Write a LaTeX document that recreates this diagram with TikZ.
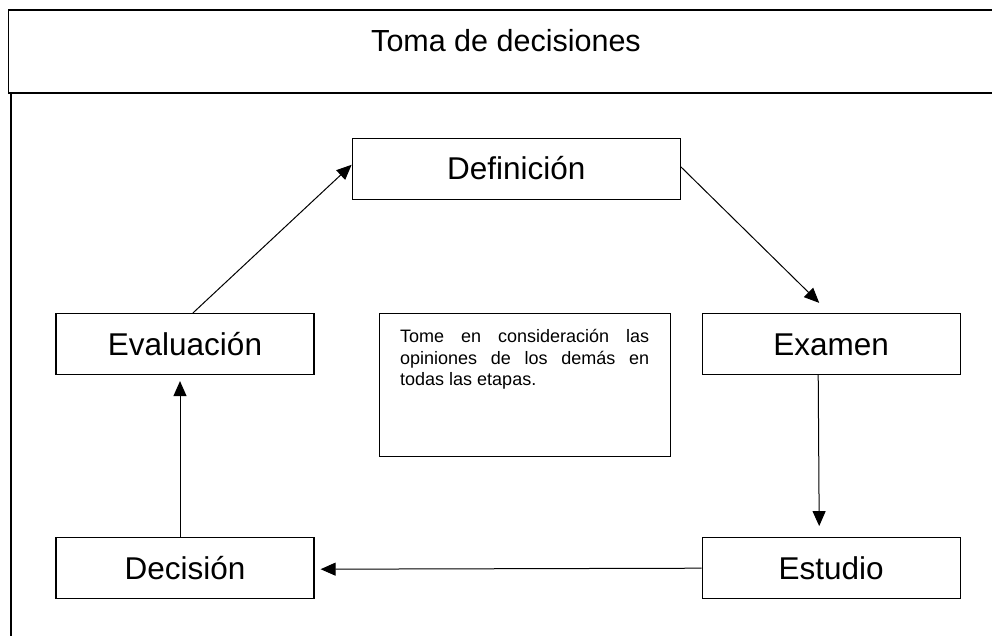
\documentclass[tikz,border=0pt]{standalone}
\usepackage{fontspec}
\setmainfont{Liberation Sans}
\usetikzlibrary{arrows.meta,positioning}
\hyphenpenalty=10000
\tolerance=10000
\tikzset{>={Triangle[length=15pt,width=13pt]},
  box/.style={draw, line width=1.2pt, minimum height=61pt, inner sep=0pt,
    text height=22pt, text depth=0pt, font=\fontsize{31.5}{37}\selectfont},
  nota/.style={draw, line width=1.2pt, text width=249pt, align=justify,
    inner xsep=21pt, inner ysep=0pt, text height=29pt, text depth=114pt,
    font=\fontsize{18}{21.7}\selectfont},
  frame/.style={line width=1.3pt}}

\begin{document}
\begin{tikzpicture}[x=1pt,y=-1pt]
		\useasboundingbox (0,0) rectangle (992,636);
		\draw[frame] (1002,10) -- (8.7,10) -- (8.7,93) -- (1002,93);
		\draw[frame] (11,93) -- (11,640);
		\node[anchor=base, font=\fontsize{30.5}{36}\selectfont] (titulo) at (506,52) {Toma de decisiones};

		\node[box, minimum width=258pt] (eva) at (185,344) {Evaluación};
		\node[box, minimum width=258pt, right=387pt of eva] (exa) {Examen};
		\node[box, minimum width=258pt, below=162pt of exa] (est) {Estudio};
		\node[box, minimum width=258pt, below=162pt of eva] (dec) {Decisión};
		\node[box, minimum width=328pt, above right=113pt and 37pt of eva] (def) {Definición};
		\node[nota, anchor=north west] (nota) at ([xshift=64pt]eva.north east)
			{Tome en consideración las opiniones de los demás en todas las etapas.};

		\path[->, line width=1pt]
			([xshift=8pt]eva.north)       edge ([yshift=4pt]def.west)
			([yshift=2pt]def.east)         edge ([xshift=-12pt,yshift=10pt]exa.north)
			([xshift=-13pt]exa.south)      edge ([xshift=-12pt,yshift=11pt]est.north)
			(est.west)                     edge ([xshift=6pt,yshift=-1pt]dec.east)
			([xshift=-5pt]dec.north)       edge ([xshift=-5pt,yshift=-6pt]eva.south);
	\end{tikzpicture}
\end{document}
